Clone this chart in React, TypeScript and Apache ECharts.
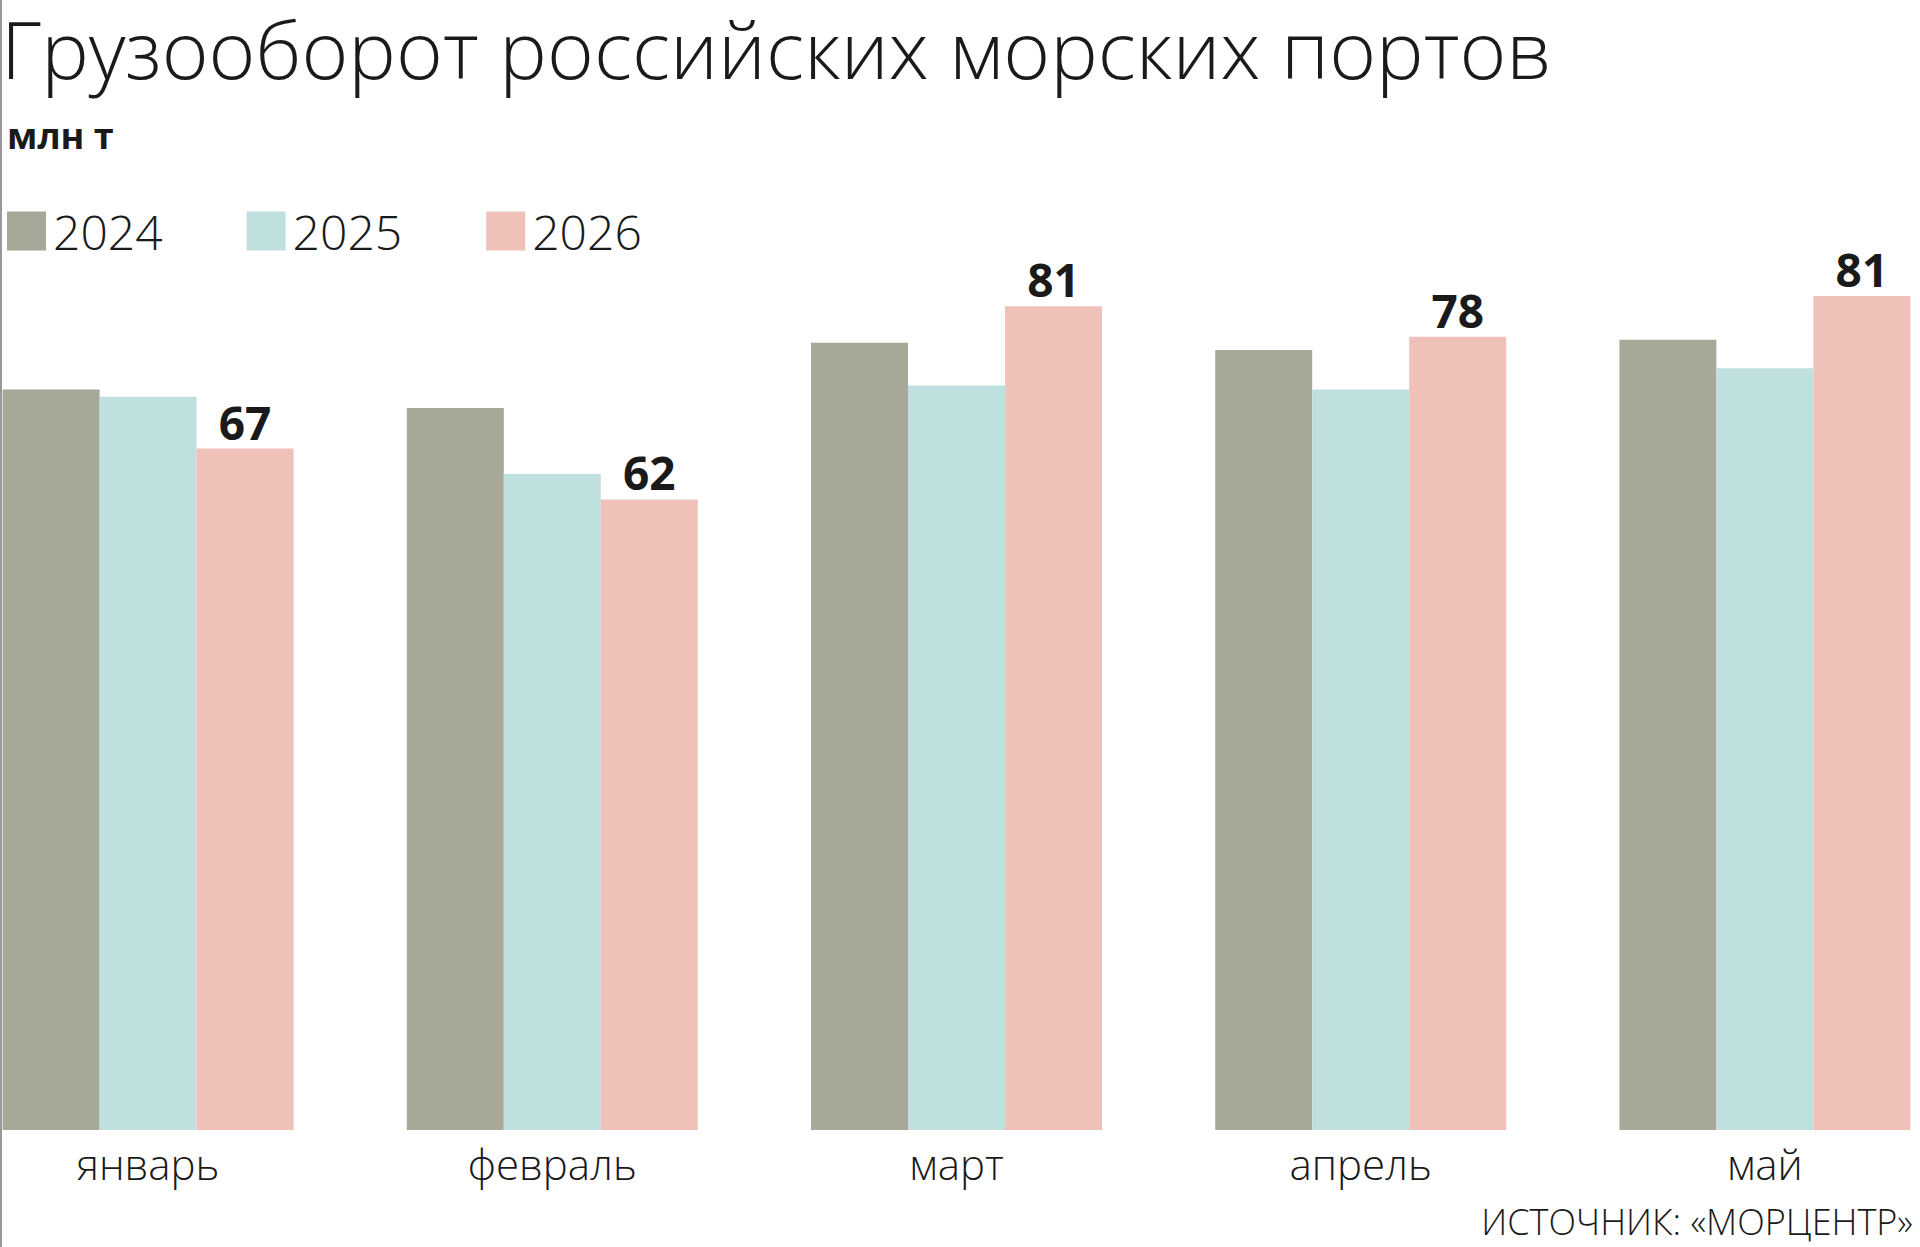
import React, { useEffect, useRef } from 'react';
import * as echarts from 'echarts';

const months = ['январь', 'февраль', 'март', 'апрель', 'май'];
const years = ['2024', '2025', '2026'];
const v2024 = [72.8, 71.0, 77.4, 76.7, 77.7];
const v2025 = [72.1, 64.5, 73.2, 72.8, 74.9];
const v2026 = [67, 62, 81, 78, 81];
const colors = ['#a8a899', '#bfe0df', '#f0c1b9'];

// chart div is shifted left so the category bands can start off-screen
const SHIFT = 54;

export default function App() {
  const chartRef = useRef<HTMLDivElement>(null);

  useEffect(() => {
    if (!chartRef.current) return;
    const chart = echarts.init(chartRef.current, undefined, { renderer: 'svg' });
    const font = '"Open Sans", sans-serif';
    const series = [v2024, v2025, v2026].map((d, i) => ({
      name: years[i],
      type: 'bar' as const,
      data: i === 2 ? d.map((v, k) => (k === 4 ? { value: 82, label: { formatter: '81' } } : v)) : d,
      barWidth: 97,
      barGap: '0%',
      itemStyle: { color: colors[i] },
      label: i === 2 ? {
        show: true, position: 'top' as const, distance: 4,
        fontFamily: font, fontWeight: 'bold' as const, fontSize: 46, color: '#1a1a1a',
      } : { show: false },
    }));
    chart.setOption({
      animation: false,
      backgroundColor: '#ffffff',
      title: [
        { text: 'Грузооборот российских морских портов', left: SHIFT - 4, top: 2,
          textStyle: { fontFamily: font, fontWeight: 300, fontSize: 80, color: '#1a1a1a' } },
        { text: 'млн т', left: SHIFT + 2, top: 112,
          textStyle: { fontFamily: font, fontWeight: 'bold', fontSize: 36, color: '#1a1a1a' } },
        { text: 'ИСТОЧНИК: «МОРЦЕНТР»', right: 2 + 47, top: 1198,
          textStyle: { fontFamily: font, fontWeight: 300, fontSize: 36, color: '#1a1a1a' } },
      ],
      legend: {
        left: SHIFT + 2, top: 202, itemWidth: 39, itemHeight: 39, itemGap: 84, icon: 'rect',
        data: years,
        textStyle: { fontFamily: font, fontWeight: 300, fontSize: 48, color: '#1a1a1a', padding: [0, 0, 0, 2] },
      },
      grid: { left: 0, right: 0, top: 113, bottom: 117 },
      xAxis: {
        type: 'category', data: months,
        axisLine: { show: false }, axisTick: { show: false },
        axisLabel: { fontFamily: font, fontWeight: 300, fontSize: 42, color: '#1a1a1a', margin: 12 },
      },
      yAxis: { type: 'value', min: 0, max: 100, show: false },
      series,
      graphic: [{ type: 'line', shape: { x1: SHIFT + 1, y1: 0, x2: SHIFT + 1, y2: 1247 }, style: { stroke: '#999', lineWidth: 2 } }],
    });
    return () => chart.dispose();
  }, []);

  return (
    <div style={{ position: 'fixed', left: 0, top: 0, width: 1920, height: 1247, overflow: 'hidden', background: '#fff' }}>
      <div ref={chartRef} style={{ position: 'absolute', left: -SHIFT, top: 0, width: 1920 + SHIFT + 47, height: 1247 }} />
    </div>
  );
}
